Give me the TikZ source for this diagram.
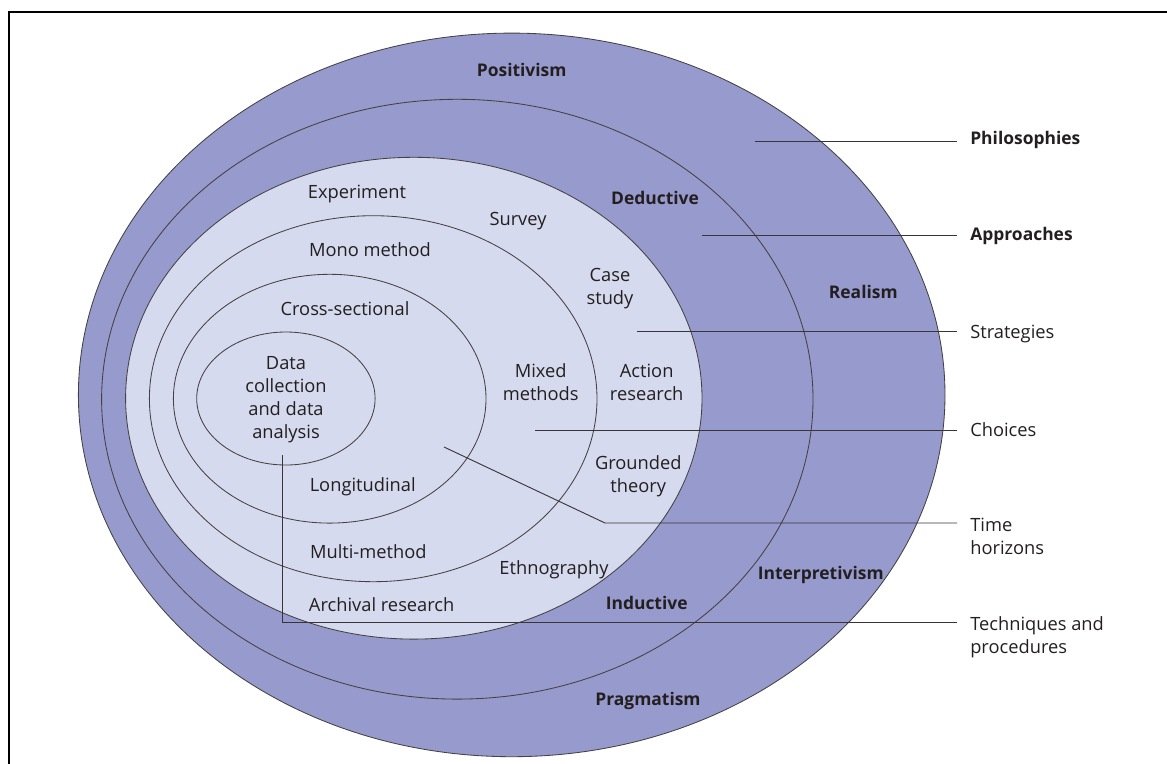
\documentclass[tikz,border=0pt]{standalone}
\usepackage{fontspec}
\setmainfont{Open Sans}
\definecolor{ringdark}{RGB}{151,154,204}
\definecolor{ringlight}{RGB}{213,218,238}
\definecolor{inkgrey}{RGB}{35,31,32}
\tikzset{
  every node/.style={text=inkgrey, font=\fontsize{13}{16.4}\selectfont, align=center, inner sep=0pt},
  ring/.style={draw=inkgrey!85, line width=0.6pt},
  lead/.style={draw=inkgrey!90, line width=0.65pt},
  layer/.style={font=\fontsize{12.4}{16.4}\selectfont\bfseries},
  key/.style={anchor=west, align=left, inner xsep=0.325cm}
}

\begin{document}
\begin{tikzpicture}[x=0.025cm, y=-0.025cm]
  \useasboundingbox (0,0) rectangle (1167,764);
  % Frame
  \draw[line width=1.4pt] (9,764) -- (9,12.3) -- (1167,12.3);

  % Rings
  \filldraw[ring, fill=ringdark]  (511.7,394.9) ellipse [x radius=433.3, y radius=361.8];
  \filldraw[ring, fill=ringdark]  (457.3,399.2) ellipse [x radius=355.7, y radius=299.9];
  \filldraw[ring, fill=ringlight] (413.8,398.2) ellipse [x radius=288.2, y radius=240.9];
  \draw[ring] (373.2,398.7) ellipse [x radius=223.8, y radius=183];
  \draw[ring] (329.7,398.7) ellipse [x radius=156.3, y radius=124.4];
  \draw[ring] (285.9,398.5) ellipse [x radius=89.2, y radius=66.5];

  % Nodes
  \node[layer] (positivism) at (521.7,70) {Positivism};
  \node[layer] (realism) at (863.3,291.5) {Realism};
  \node[layer] (interpretivism) at (820.7,574.5) {Interpretivism};
  \node[layer] (pragmatism) at (648,700.5) {Pragmatism};
  \node[layer] (deductive) at (655,198) {Deductive};
  \node[layer] (inductive) at (646.7,603) {Inductive};

  \node (experiment) at (357,193.5) {Experiment};
  \node (survey) at (518,221.5) {Survey};
  \node (casestudy) at (610,288.5) {Case\\study};
  \node (actionres) at (646.7,382) {Action\\research};
  \node (grounded) at (638.3,476) {Grounded\\theory};
  \node (ethno) at (554,569.5) {Ethnography};
  \node (archival) at (381.7,604.5) {Archival research};

  \node (mono) at (370,249.5) {Mono method};
  \node (mixed) at (540.7,382) {Mixed\\methods};
  \node (multi) at (368.3,552) {Multi-method};

  \node (crosssec) at (345,309) {Cross-sectional};
  \node (longit) at (362.7,487) {Longitudinal};

  \node (datacoll) at (286,400) {Data\\collection\\and data\\analysis};

  % Keys
  \node[key, layer] (philo) at (957,139.5) {Philosophies};
  \node[key, layer] (approach) at (957,235.5) {Approaches};
  \node[key] (strat) at (957,333.5) {Strategies};
  \node[key] (choice) at (957,430) {Choices};
  \node[key] (timehor) at (957,536) {Time\\horizons};
  \node[key] (techproc) at (957,637) {Techniques and\\procedures};

  \coordinate (philoin) at (755,141.5);
  \coordinate (approachin) at (702,235);
  \coordinate (stratin) at (637,331);
  \coordinate (choicein) at (535,430);
  \coordinate (timein) at (444,447);
  \coordinate (timebend) at (605,523);
  \coordinate (techin) at (282.5,455);
  \coordinate (techbend) at (282.5,622.7);

  \draw[lead] (philoin) -- (philoin -| philo.west);
  \draw[lead] (approachin) -- (approachin -| approach.west);
  \draw[lead] (stratin) -- (stratin -| strat.west);
  \draw[lead] (choicein) -- (choicein -| choice.west);
  \draw[lead] (timein) -- (timebend) -- (timebend -| timehor.west);
  \draw[lead] (techin) -- (techbend) -- (techbend -| techproc.west);
\end{tikzpicture}
\end{document}
